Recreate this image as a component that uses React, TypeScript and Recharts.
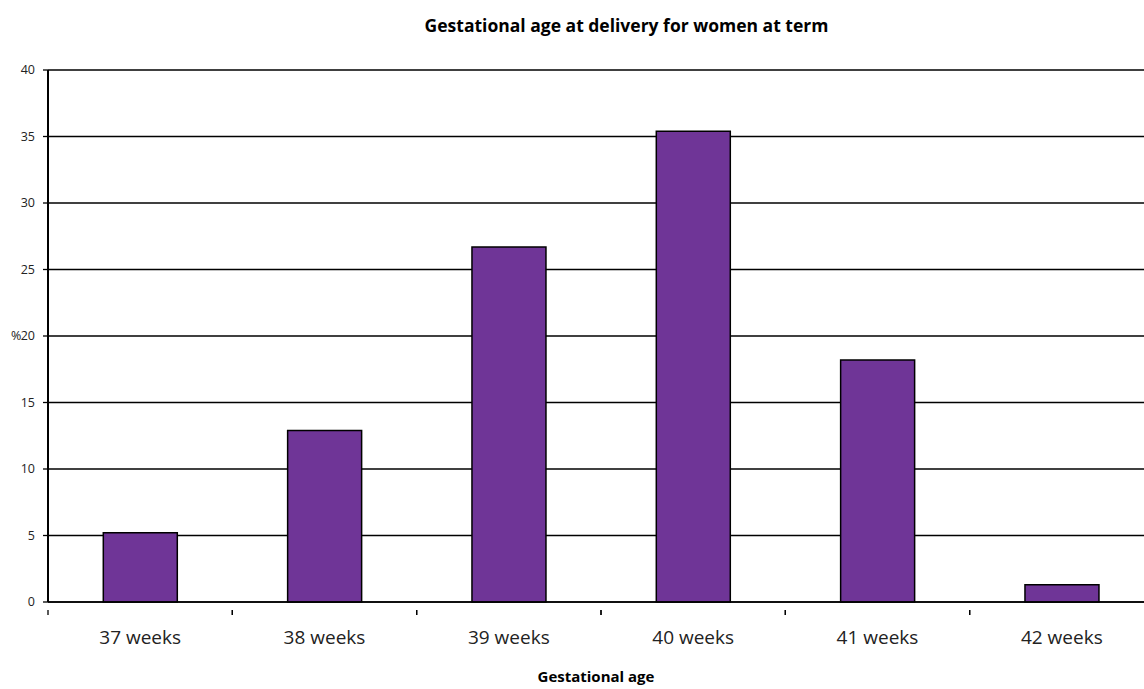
import { Bar, BarChart, CartesianGrid, XAxis, YAxis } from "recharts"

const weeks = ["37 weeks", "38 weeks", "39 weeks", "40 weeks", "41 weeks", "42 weeks"]
const percent = [5.2, 12.9, 26.7, 35.4, 18.2, 1.3]
const yTicks = [0, 5, 10, 15, 20, 25, 30, 35, 40]

const data = weeks.map((week, i) => ({ week, pct: percent[i] }))

const FONT = "'Open Sans', Lato, sans-serif"
const CHART_W = 1162
const MARGIN = { top: 70, right: 8, left: 8, bottom: 27 }
const Y_W = 40
const BAND = (CHART_W - MARGIN.left - MARGIN.right - Y_W) / weeks.length

function WeekTick(props: any) {
  const { x, y, payload } = props
  return (
    <g>
      <line x1={x - BAND / 2} x2={x - BAND / 2} y1={y} y2={y + 5} stroke="#000" strokeWidth={1.3} />
      <line x1={x + BAND / 2} x2={x + BAND / 2} y1={y} y2={y + 5} stroke="#000" strokeWidth={1.3} />
      <text x={x} y={y + 34} textAnchor="middle" fontSize={19} fill="#222" fontFamily={FONT}>
        {payload.value}
      </text>
    </g>
  )
}

export default function App() {
  return (
    <div
      style={{
        position: "absolute",
        left: 0,
        top: 0,
        width: 1144,
        height: 689,
        overflow: "hidden",
        background: "#fff",
        fontFamily: FONT,
      }}
    >
      <div
        style={{
          position: "absolute",
          left: 0,
          width: 1253,
          top: 13,
          textAlign: "center",
          fontSize: 17.5,
          fontWeight: 700,
          color: "#000",
        }}
      >
        Gestational age at delivery for women at term
      </div>
      <BarChart
        width={CHART_W}
        height={689}
        data={data}
        margin={MARGIN}
        barCategoryGap="30%"
      >
        <CartesianGrid vertical={false} stroke="#000" strokeWidth={1.3} strokeOpacity={1} />
        <XAxis
          dataKey="week"
          tick={<WeekTick />}
          tickLine={false}
          axisLine={{ stroke: "#000", strokeWidth: 1.5 }}
          height={60}
          interval={0}
        />
        <YAxis
          domain={[0, 40]}
          ticks={yTicks}
          width={Y_W}
          tickSize={5}
          tickMargin={8}
          tickLine={{ stroke: "#000", strokeWidth: 1.3 }}
          axisLine={{ stroke: "#000", strokeWidth: 2 }}
          tick={{ fontSize: 12.5, fill: "#222", fontFamily: FONT }}
        />
        <Bar dataKey="pct" fill="#6f3597" stroke="#000" strokeWidth={1.5} isAnimationActive={false} />
      </BarChart>
      <div style={{ position: "absolute", left: 11, top: 327, fontSize: 12.5, color: "#222" }}>%</div>
      <div
        style={{
          position: "absolute",
          left: 0,
          width: 1192,
          top: 666,
          textAlign: "center",
          fontSize: 15,
          fontWeight: 700,
          color: "#000",
        }}
      >
        Gestational age
      </div>
    </div>
  )
}
